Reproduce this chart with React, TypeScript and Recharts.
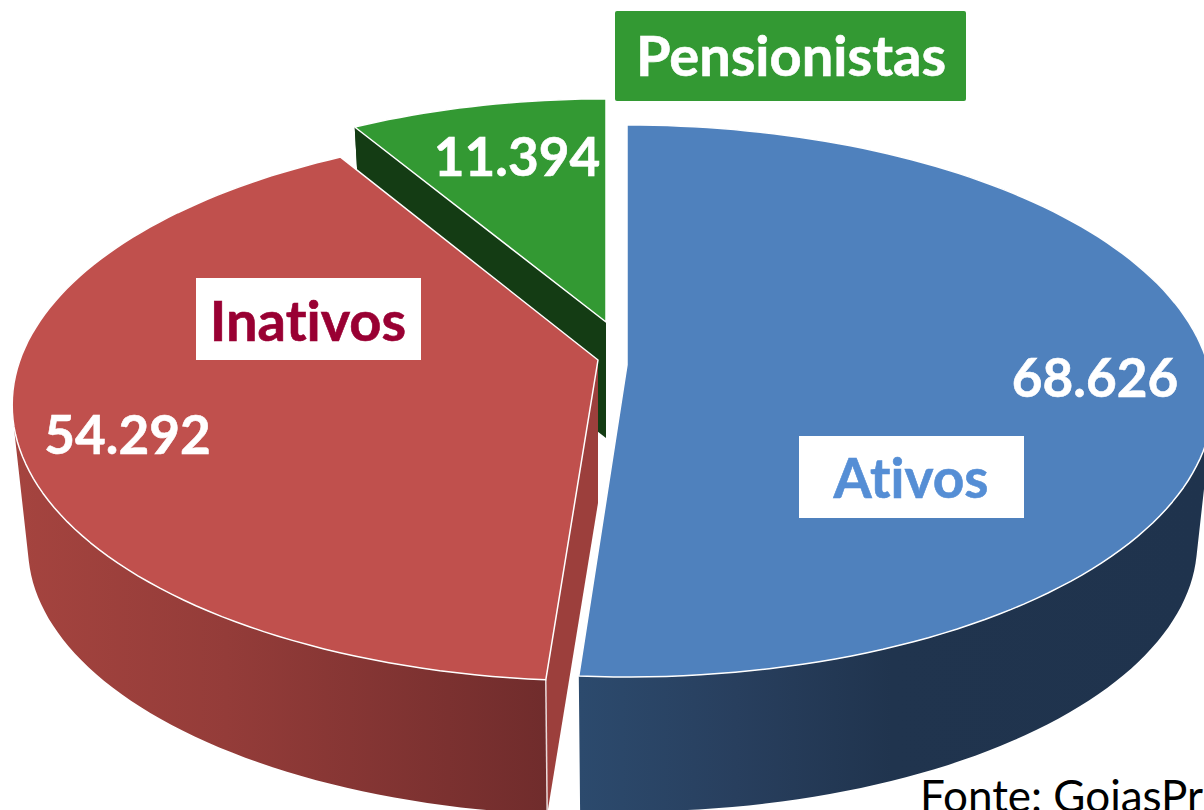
import React from "react";
import { PieChart, Pie } from "recharts";

const categories = ["Pensionistas", "Ativos", "Inativos"];
const values = [11394, 68626, 54292];
const chartData = categories.map((name, i) => ({ name, value: values[i] }));
const total = values.reduce((a, b) => a + b, 0);
const firstAngle = 90 + (360 * values[0]) / total;

type Geo = { cx: number; cy: number; rx: number; ry: number; k: number; dy: number; scale: number; top: string; wall: string; face?: "start" | "end"; faceFill?: string; startShift?: number; endShift?: number };

const geometry: Record<string, Geo> = {
  Pensionistas: { cx: 606, cy: 322, rx: 544, ry: 249, k: 0.116, dy: 116, scale: 0.973, top: "#339933", wall: "#143c14", face: "start", faceFill: "#143c14" },
  Ativos: { cx: 627, cy: 365, rx: 581, ry: 271.3, k: 0.1304, dy: 143, scale: 0.973, top: "#4f81bd", wall: "url(#blueWall)", endShift: 0.2 },
  Inativos: { cx: 598, cy: 360, rx: 578, ry: 268.6, k: 0.163, dy: 143, scale: 0.973, top: "#c0504d", wall: "url(#redWall)", face: "start", faceFill: "#9c3f3c", startShift: 0.4 },
};

const labelBoxes: Record<string, any> = {
  Pensionistas: { x: 615, y: 11, w: 351, h: 90, fill: "#339933", color: "#ffffff", tx: 791, ty: 76, size: 56, vx: 517, vy: 176 },
  Ativos: { x: 799, y: 436, w: 225, h: 82, fill: "#ffffff", color: "#558ed5", tx: 911, ty: 498, size: 55, vx: 1095, vy: 397 },
  Inativos: { x: 196, y: 278, w: 225, h: 82, fill: "#ffffff", color: "#990033", tx: 308, ty: 341, size: 56, vx: 127.5, vy: 454 },
};

const pt = (g: Geo, t: number, s = 1, dy = 0): [number, number] => {
  const r = (t * Math.PI) / 180;
  const u = Math.sin(r);
  const v = Math.cos(r);
  const w = 1 + g.k * v;
  return [g.cx + (s * g.rx * u) / w, g.cy + dy - (s * g.ry * v) / w];
};

const fmt = (p: [number, number]) => `${p[0].toFixed(1)} ${p[1].toFixed(1)}`;

function PerspectiveSector(props: any) {
  const g = geometry[props.name];
  const t0 = 90 - props.startAngle + (g.startShift || 0);
  const t1 = 90 - props.endAngle + (g.endShift || 0);
  const n = Math.max(8, Math.ceil((t1 - t0) / 1.5));
  const ts = Array.from({ length: n + 1 }, (_, i) => t0 + ((t1 - t0) * i) / n);

  let wall = "";
  for (let i = 0; i < n; i++) {
    const q = [pt(g, ts[i]), pt(g, ts[i + 1]), pt(g, ts[i + 1], g.scale, g.dy), pt(g, ts[i], g.scale, g.dy)];
    let area = 0;
    q.forEach((a, j) => {
      const b = q[(j + 1) % 4];
      area += a[0] * b[1] - b[0] * a[1];
    });
    const o = area < 0 ? [...q].reverse() : q;
    wall += `M${o.map(fmt).join("L")}Z`;
  }

  const apex: [number, number] = [g.cx, g.cy];
  const topPath = `M${fmt(apex)}L${ts.map((t) => fmt(pt(g, t))).join("L")}Z`;

  let face = null;
  if (g.face) {
    const ft = g.face === "start" ? t0 : t1;
    const d = `M${fmt(apex)}L${fmt(pt(g, ft))}L${fmt(pt(g, ft, g.scale, g.dy))}L${fmt([g.cx, g.cy + g.dy])}Z`;
    face = <path d={d} fill={g.faceFill} stroke="none" />;
  }
  const seam = g.face === "start" && props.name === "Inativos"
    ? <path d={`M${fmt(pt(g, t0))}L${fmt(pt(g, t0, g.scale, g.dy))}`} stroke="#eadcdc" strokeWidth={1.5} fill="none" />
    : null;

  return (
    <g>
      <path d={wall} fill={g.wall} stroke="none" />
      {face}
      {seam}
      <path d={topPath} fill={g.top} stroke="#ffffff" strokeWidth={1.5} strokeLinejoin="round" />
    </g>
  );
}

const renderLabel = (props: any) => {
  const b = labelBoxes[props.name];
  const text = Number(props.value).toLocaleString("de-DE");
  return (
    <g fontFamily="Lato" fontWeight={700} style={{ fontVariantLigatures: "none" }}>
      <rect x={b.x} y={b.y} width={b.w} height={b.h} rx={props.name === "Pensionistas" ? 2 : 0} fill={b.fill} />
      <text x={b.tx} y={b.ty} fill={b.color} stroke={b.color} strokeWidth={0.6} fontSize={b.size} textAnchor="middle">{props.name}</text>
      <text x={b.vx} y={b.vy} fill="#ffffff" stroke="#ffffff" strokeWidth={0.6} fontSize={53} textAnchor="middle">{text}</text>
    </g>
  );
};

export default function App() {
  return (
    <div style={{ position: "absolute", left: 0, top: 0, width: 1204, height: 810, overflow: "hidden", background: "#fff" }}>
      <PieChart width={1204} height={810} margin={{ top: 0, right: 0, bottom: 0, left: 0 }}>
        <defs>
          <linearGradient id="blueWall" gradientUnits="userSpaceOnUse" x1={580} y1={0} x2={1204} y2={0}>
            <stop offset="0" stopColor="#2c4a6d" />
            <stop offset="0.25" stopColor="#283f5e" />
            <stop offset="0.5" stopColor="#20344e" />
            <stop offset="1" stopColor="#1f334d" />
          </linearGradient>
          <linearGradient id="redWall" gradientUnits="userSpaceOnUse" x1={12} y1={0} x2={548} y2={0}>
            <stop offset="0" stopColor="#a5443f" />
            <stop offset="0.4" stopColor="#943c39" />
            <stop offset="1" stopColor="#702c2c" />
          </linearGradient>
        </defs>
        <Pie
          data={chartData}
          dataKey="value"
          nameKey="name"
          cx={600}
          cy={400}
          outerRadius={300}
          startAngle={firstAngle}
          endAngle={firstAngle - 360}
          stroke="none"
          shape={PerspectiveSector}
          label={renderLabel}
          labelLine={false}
          isAnimationActive={false}
        />
        <text x={920} y={812} fontFamily="Lato" fontSize={44} fill="#000000">Fonte: GoiasPr</text>
      </PieChart>
    </div>
  );
}
